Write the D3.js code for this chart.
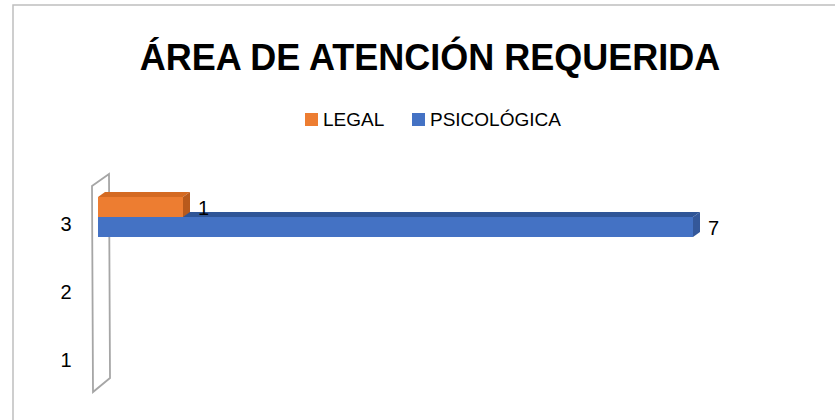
<!DOCTYPE html>
<html>
<head>
<meta charset="utf-8">
<script src="https://cdn.jsdelivr.net/npm/d3@7"></script>
<style>
  body { margin: 0; background: #fff; }
  svg { display: block; font-family: "Liberation Sans", Arial, sans-serif; }
</style>
</head>
<body>
<svg id="chart"></svg>
<script>
// data
const categories = ["3", "2", "1"];
const seriesNames = ["LEGAL", "PSICOLÓGICA"];
const legalValues = [1, null, null];
const psicoValues = [7, null, null];
const xMaxValue = 7;

const colors = {
  "LEGAL": { front: "#ed7d31", top: "#d46a22", side: "#b85a1c" },
  "PSICOLÓGICA": { front: "#4472c4", top: "#2f5597", side: "#34589a" }
};

var w = 835, h = 420;
const svg = d3.select("#chart").attr("width", w).attr("height", h);

// outer border (cut off at right & bottom like the screenshot)
svg.append("path")
  .attr("d", "M13,420 L13,5 L835,5")
  .attr("fill", "none")
  .attr("stroke", "#bfbfbf")
  .attr("stroke-width", 1.5);

// title
svg.append("text")
  .attr("x", 430)
  .attr("y", 70)
  .attr("text-anchor", "middle")
  .style("font-size", "36px")
  .style("font-weight", "bold")
  .attr("fill", "#000")
  .text("ÁREA DE ATENCIÓN REQUERIDA");

// legend
const legend = [
  { name: "LEGAL", x: 305 },
  { name: "PSICOLÓGICA", x: 412 }
];
let lg = svg.append("g").selectAll("g").data(legend).enter().append("g");
lg.append("rect")
  .attr("x", d => d.x)
  .attr("y", 113)
  .attr("width", 13)
  .attr("height", 13)
  .attr("fill", d => colors[d.name].front);
lg.append("text")
  .attr("x", d => d.x + 18)
  .attr("y", 126)
  .style("font-size", "19px")
  .text(d => d.name);

// scales
let xScale = d3.scaleLinear()
  .domain([0, xMaxValue])
  .range([98, 693]);
let yScale = d3.scaleBand()
  .domain(categories)
  .range([190, 394]);
let ySub = d3.scaleBand()
  .domain(seriesNames)
  .range([7, 47]);

const dx = 7, dy = -5;

// side wall
const wx = xScale(0);
const wTop = yScale.range()[0] - 4, wBot = yScale.range()[1] - 2;
svg.append("polygon")
  .attr("points", [
    [wx - 6, wTop], [wx + 11, wTop - 12], [wx + 12, wBot - 14], [wx - 5, wBot]
  ].map(p => p.join(",")).join(" "))
  .attr("fill", "none")
  .attr("stroke", "#a6a6a6")
  .attr("stroke-width", 1.8);

// y labels
svg.append("g").selectAll("text")
  .data(categories)
  .enter()
  .append("text")
  .attr("x", 66)
  .attr("y", d => yScale(d) + yScale.bandwidth() / 2 + 7)
  .attr("text-anchor", "middle")
  .style("font-size", "20px")
  .text(d => d);

// bars: blue first so the orange sits in front of its top face
const bars = [];
categories.forEach((c, i) => {
  if (psicoValues[i] != null) bars.push({ cat: c, s: "PSICOLÓGICA", v: psicoValues[i] });
  if (legalValues[i] != null) bars.push({ cat: c, s: "LEGAL", v: legalValues[i] });
});

const barG = svg.append("g");
bars.forEach(function(d) {
  let x0 = xScale(0), x1 = xScale(d.v);
  let y0 = yScale(d.cat) + ySub(d.s), y1 = y0 + ySub.bandwidth();
  let col = colors[d.s];
  // top face
  barG.append("polygon")
    .attr("points", [[x0, y0], [x0 + dx, y0 + dy], [x1 + dx, y0 + dy], [x1, y0]].map(p => p.join(",")).join(" "))
    .attr("fill", col.top);
  // side face
  barG.append("polygon")
    .attr("points", [[x1, y0], [x1 + dx, y0 + dy], [x1 + dx, y1 + dy], [x1, y1]].map(p => p.join(",")).join(" "))
    .attr("fill", col.side);
  // front face
  barG.append("rect")
    .attr("x", x0)
    .attr("y", y0)
    .attr("width", x1 - x0)
    .attr("height", y1 - y0)
    .attr("fill", col.front);
  // value label
  barG.append("text")
    .attr("x", x1 + dx + 8)
    .attr("y", d.s == "LEGAL" ? y0 + 18 : y0 + 18)
    .style("font-size", "20px")
    .text(d.v);
});
</script>
</body>
</html>
